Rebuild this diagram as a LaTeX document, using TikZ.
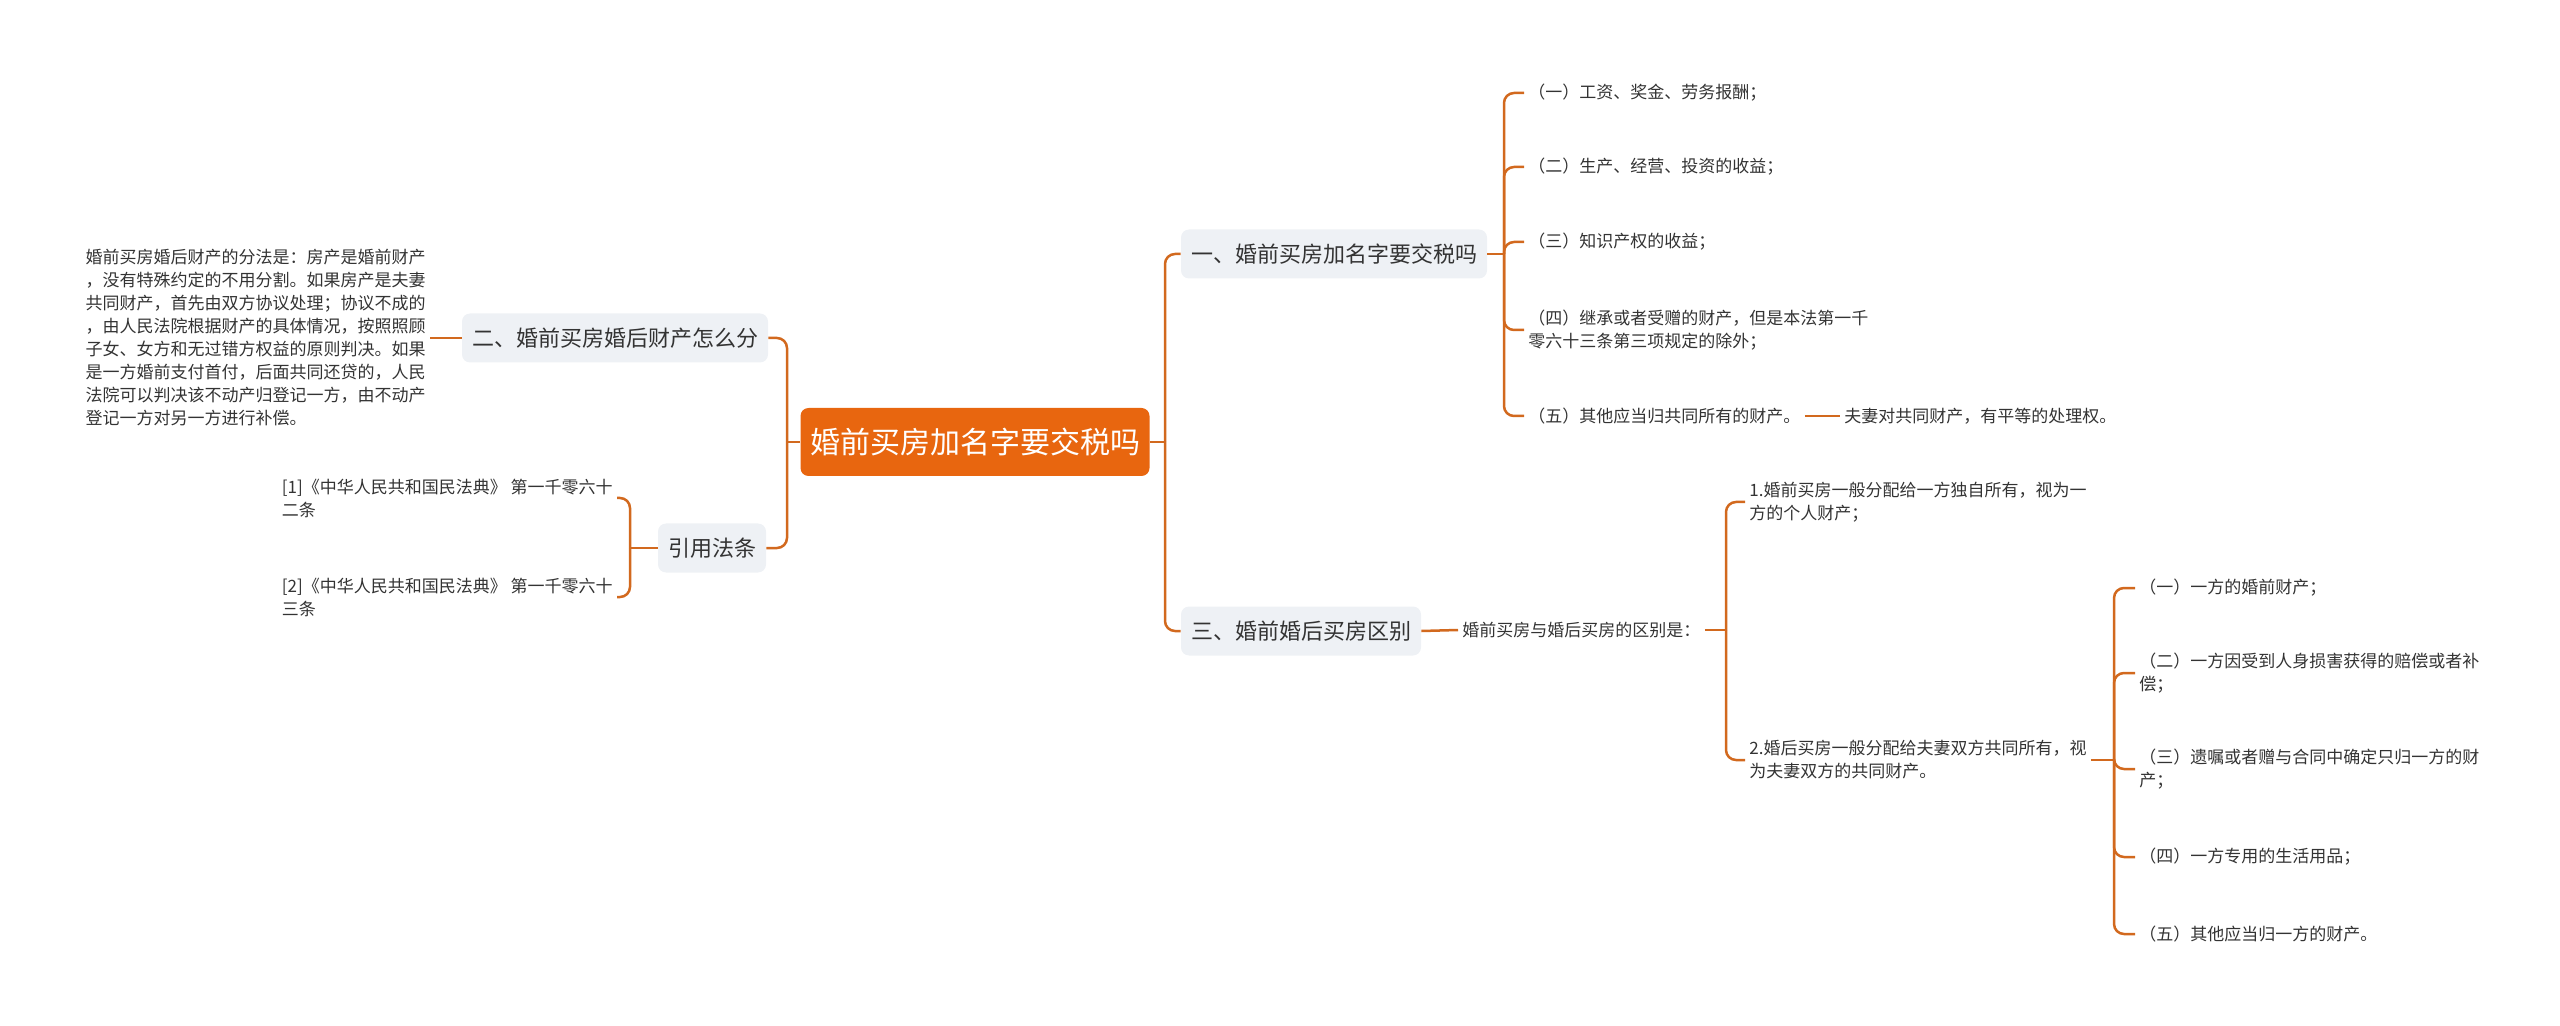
\documentclass[tikz,border=0pt]{standalone}
\usepackage{fontspec}
\setmainfont{Noto Sans CJK SC}
\definecolor{rootorange}{HTML}{E8660F}
\definecolor{linkorange}{HTML}{D2691E}
\definecolor{topicgray}{HTML}{EEF1F5}
\definecolor{leaftext}{HTML}{333333}

\begin{document}
\begin{tikzpicture}[x=0.5pt,y=-0.5pt,
  root/.style={fill=rootorange,text=white,rounded corners=4pt,font=\fontsize{15}{18}\selectfont,minimum width=174.5pt,minimum height=34pt,inner sep=0pt},
  topic/.style={fill=topicgray,text=leaftext,rounded corners=4pt,font=\fontsize{11}{13}\selectfont,minimum height=24.5pt,inner xsep=5pt,inner ysep=0pt},
  leaf/.style={text=leaftext,font=\fontsize{8.5}{11.5}\selectfont,align=left,inner sep=2pt},
  link/.style={draw=linkorange,line width=1.25pt,rounded corners=5pt}]
\useasboundingbox (0,0) rectangle (2560,1026);

% Kök ve ana başlıklar
\node[root] (root) at (975,442) {婚前买房加名字要交税吗};
\node[topic] (t1) at (1334,254) {一、婚前买房加名字要交税吗};
\node[topic] (t2) at (615,338) {二、婚前买房婚后财产怎么分};
\node[topic] (t3) at (1301,631) {三、婚前婚后买房区别};
\node[topic] (cite) at (712,548) {引用法条};

\coordinate (rootl) at (787,442);
\coordinate (rootr) at (1165,442);
\draw[link] (root.west) -- (rootl);
\draw[link] (rootl) |- (t2.east);
\draw[link] (rootl) |- (cite.east);
\draw[link] (root.east) -- (rootr);
\draw[link] (rootr) |- (t1.west);
\draw[link] (rootr) |- (t3.west);

% Birinci başlığın dalları
\node[leaf,anchor=west] (a1) at (1524,93) {（一）工资、奖金、劳务报酬；};
\node[leaf,anchor=west] (a2) at (1524,167) {（二）生产、经营、投资的收益；};
\node[leaf,anchor=west] (a3) at (1524,242) {（三）知识产权的收益；};
\node[leaf,anchor=west] (a4) at (1524,330) {（四）继承或者受赠的财产，但是本法第一千\\零六十三条第三项规定的除外；};
\node[leaf,anchor=west] (a5) at (1524,416) {（五）其他应当归共同所有的财产。};
\node[leaf,anchor=west] (a5x) at (1840,416) {夫妻对共同财产，有平等的处理权。};

\coordinate (t1j) at (1504,254);
\draw[link] (t1.east) -- (t1j);
\foreach \n in {a1,a2,a3,a4,a5}
  \draw[link] (t1j) |- (\n.west);
\draw[link] (a5.east) -- (a5x.west);

% İkinci başlık
\node[leaf,anchor=east] (t2txt) at (430,338) {婚前买房婚后财产的分法是：房产是婚前财产\\，没有特殊约定的不用分割。如果房产是夫妻\\共同财产，首先由双方协议处理；协议不成的\\，由人民法院根据财产的具体情况，按照照顾\\子女、女方和无过错方权益的原则判决。如果\\是一方婚前支付首付，后面共同还贷的，人民\\法院可以判决该不动产归登记一方，由不动产\\登记一方对另一方进行补偿。};
\draw[link] (t2.west) -- (t2txt.east);

% Kaynaklar
\node[leaf,anchor=east] (c1) at (617,498) {[1]《中华人民共和国民法典》 第一千零六十\\二条};
\node[leaf,anchor=east] (c2) at (617,597) {[2]《中华人民共和国民法典》 第一千零六十\\三条};
\coordinate (citej) at (630,548);
\draw[link] (cite.west) -- (citej);
\draw[link] (citej) |- (c1.east);
\draw[link] (citej) |- (c2.east);

% Üçüncü başlık
\node[leaf,anchor=west] (b0) at (1458,630) {婚前买房与婚后买房的区别是：};
\draw[link] (t3.east) -- (b0.west);
\node[leaf,anchor=west] (b1) at (1745,502) {1.婚前买房一般分配给一方独自所有，视为一\\方的个人财产；};
\node[leaf,anchor=west] (b2) at (1745,760) {2.婚后买房一般分配给夫妻双方共同所有，视\\为夫妻双方的共同财产。};
\coordinate (b0j) at (1726,630);
\draw[link] (b0.east) -- (b0j);
\draw[link] (b0j) |- (b1.west);
\draw[link] (b0j) |- (b2.west);

\node[leaf,anchor=west] (d1) at (2135,588) {（一）一方的婚前财产；};
\node[leaf,anchor=west] (d2) at (2135,673) {（二）一方因受到人身损害获得的赔偿或者补\\偿；};
\node[leaf,anchor=west] (d3) at (2135,769) {（三）遗嘱或者赠与合同中确定只归一方的财\\产；};
\node[leaf,anchor=west] (d4) at (2135,857) {（四）一方专用的生活用品；};
\node[leaf,anchor=west] (d5) at (2135,934) {（五）其他应当归一方的财产。};
\coordinate (b2j) at (2114,760);
\draw[link] (b2.east) -- (b2j);
\foreach \n in {d1,d2,d3,d4,d5}
  \draw[link] (b2j) |- (\n.west);

\end{tikzpicture}
\end{document}
